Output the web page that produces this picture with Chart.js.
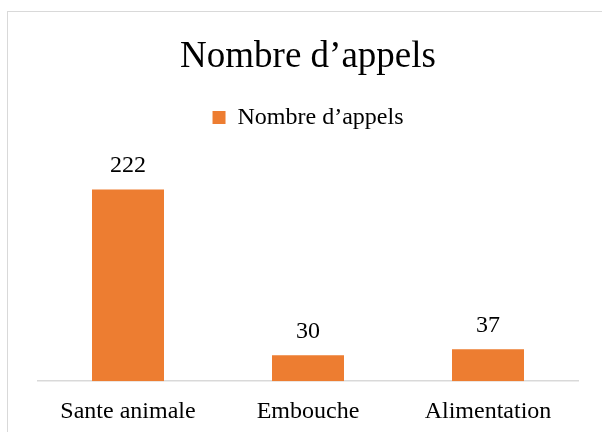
<!DOCTYPE html>
<html>
<head>
<meta charset="utf-8">
<script src="https://cdn.jsdelivr.net/npm/chart.js@4/dist/chart.umd.min.js"></script>
<style>
  html, body { margin: 0; padding: 0; background: #fff; overflow: hidden; }
  #wrap { position: relative; width: 602px; height: 432px; }
  #frame { position: absolute; left: 7px; top: 11px; width: 700px; height: 500px; border: 1.5px solid #d9d9d9; }
  #chart { position: absolute; left: 0; top: 0; }
</style>
</head>
<body>
<div id="wrap">
  <div id="frame"></div>
  <canvas id="chart" width="602" height="432"></canvas>
</div>
<script>
// Données
const categories = ['Sante animale', 'Embouche', 'Alimentation']
const appels = [222, 30, 37]
const seriesName = 'Nombre d\u2019appels'

const serif = "'Liberation Serif', 'Times New Roman', serif"

// étiquettes de valeurs au-dessus des barres
const valueLabels = {
  id: 'valueLabels',
  afterDatasetsDraw(chart) {
    const ctx = chart.ctx
    const meta = chart.getDatasetMeta(0)
    ctx.save()
    ctx.font = '24px ' + serif
    ctx.fillStyle = '#000'
    ctx.textAlign = 'center'
    ctx.textBaseline = 'middle'
    meta.data.forEach((bar, i) => {
      ctx.fillText(String(chart.data.datasets[0].data[i]), bar.x, bar.y - 24)
    })
    ctx.restore()
  }
}

// un peu plus d'espace sous la légende
const legendSpace = {
  id: 'legendSpace',
  beforeInit(chart) {
    const fit = chart.legend.fit
    chart.legend.fit = function () {
      fit.bind(chart.legend)()
      this.height += 26
    }
  }
}

new Chart(document.querySelector('#chart'), {
  type: 'bar',
  data: {
    labels: categories,
    datasets: [{
      label: seriesName,
      data: appels,
      backgroundColor: '#ed7d31',
      borderWidth: 0,
      categoryPercentage: 1,
      barPercentage: 0.4
    }]
  },
  plugins: [valueLabels, legendSpace],
  options: {
    responsive: false,
    animation: false,
    layout: { padding: { left: 38, right: 24, top: 0, bottom: -10 } },
    plugins: {
      title: {
        display: true,
        text: seriesName,
        color: '#000',
        font: { family: serif, size: 37, weight: 'normal' },
        padding: { top: 35, bottom: 16 }
      },
      legend: {
        display: true,
        labels: {
          color: '#000',
          font: { family: serif, size: 24 },
          boxWidth: 13,
          boxHeight: 13,
          padding: 10
        }
      },
      tooltip: { enabled: false }
    },
    scales: {
      x: {
        grid: { display: false, drawTicks: false },
        border: { color: '#d9d9d9', width: 1.5 },
        ticks: {
          color: '#000',
          font: { family: serif, size: 24 },
          padding: 16
        }
      },
      y: {
        display: false,
        min: 0,
        max: 250
      }
    }
  }
})
</script>
</body>
</html>
